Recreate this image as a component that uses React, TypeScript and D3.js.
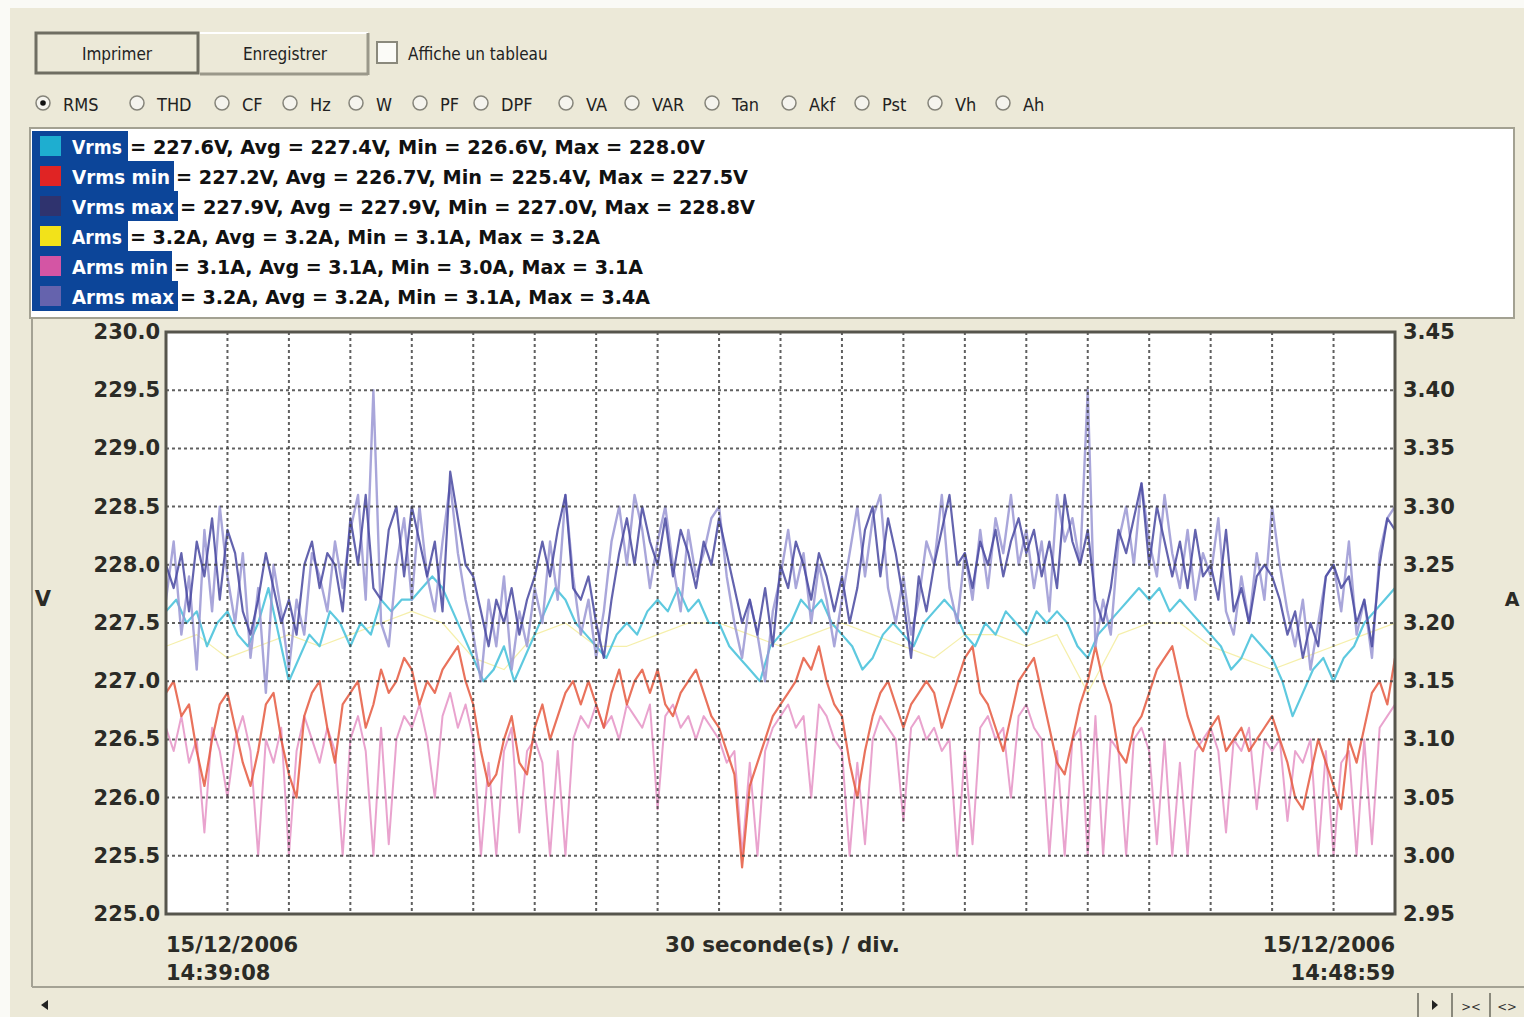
import React from 'react';
import * as d3 from 'd3';

// ---- data ----
const voltTicks = [225.0, 225.5, 226.0, 226.5, 227.0, 227.5, 228.0, 228.5, 229.0, 229.5, 230.0];
const ampTicks = [2.95, 3.0, 3.05, 3.1, 3.15, 3.2, 3.25, 3.3, 3.35, 3.4, 3.45];
const startStamp = ['15/12/2006', '14:39:08'];
const endStamp = ['15/12/2006', '14:48:59'];
const divisionLabel = '30 seconde(s) / div.';
const divisionCount = 20;

const radioLabels = ['RMS', 'THD', 'CF', 'Hz', 'W', 'PF', 'DPF', 'VA', 'VAR', 'Tan', 'Akf', 'Pst', 'Vh', 'Ah'];

const seriesNames = ['Vrms', 'Vrms min', 'Vrms max', 'Arms', 'Arms min', 'Arms max'];
const seriesSwatch = ['#1eaed0', '#e02424', '#2f336e', '#f2e21a', '#d455a4', '#6563ad'];
const seriesStats = [
  '= 227.6V, Avg = 227.4V, Min = 226.6V, Max = 228.0V',
  '= 227.2V, Avg = 226.7V, Min = 225.4V, Max = 227.5V',
  '= 227.9V, Avg = 227.9V, Min = 227.0V, Max = 228.8V',
  '= 3.2A, Avg = 3.2A, Min = 3.1A, Max = 3.2A',
  '= 3.1A, Avg = 3.1A, Min = 3.0A, Max = 3.1A',
  '= 3.2A, Avg = 3.2A, Min = 3.1A, Max = 3.4A',
];

// Vrms (V)
const vrms = [
  227.6, 227.7, 227.5, 227.6, 227.3, 227.5,
  227.6, 227.4, 227.3, 227.5, 227.8, 227.4,
  227.0, 227.2, 227.4, 227.3, 227.6, 227.5,
  227.3, 227.5, 227.4, 227.7, 227.6, 227.7,
  227.7, 227.8, 227.9, 227.8, 227.6, 227.4,
  227.2, 227.0, 227.1, 227.3, 227.0, 227.2,
  227.4, 227.6, 227.8, 227.7, 227.5, 227.4,
  227.3, 227.2, 227.4, 227.5, 227.4, 227.6,
  227.7, 227.6, 227.8, 227.6, 227.7, 227.5,
  227.5, 227.3, 227.2, 227.1, 227.0, 227.3,
  227.4, 227.5, 227.7, 227.6, 227.7, 227.5,
  227.4, 227.3, 227.1, 227.2, 227.4, 227.5,
  227.4, 227.3, 227.5, 227.6, 227.7, 227.6,
  227.4, 227.3, 227.5, 227.4, 227.6, 227.5,
  227.4, 227.6, 227.5, 227.6, 227.5, 227.3,
  227.2, 227.4, 227.5, 227.6, 227.7, 227.8,
  227.7, 227.8, 227.6, 227.7, 227.6, 227.5,
  227.4, 227.3, 227.1, 227.2, 227.4, 227.3,
  227.2, 227.0, 226.7, 226.9, 227.1, 227.2,
  227.0, 227.2, 227.3, 227.5, 227.6, 227.7,
  227.8,
];

// Vrms min (V)
const vrmsMin = [
  226.9, 227.0, 226.7, 226.8, 226.4, 226.1, 226.5, 226.8,
  226.9, 226.6, 226.3, 226.1, 226.4, 226.8, 226.9, 226.5,
  226.2, 226.0, 226.7, 226.9, 227.0, 226.6, 226.3, 226.8,
  226.9, 227.0, 226.6, 226.8, 227.1, 226.9, 227.0, 227.2,
  227.1, 226.8, 227.0, 226.9, 227.1, 227.2, 227.3, 227.0,
  226.8, 226.4, 226.1, 226.2, 226.5, 226.7, 226.3, 226.2,
  226.6, 226.8, 226.5, 226.7, 226.9, 227.0, 226.8, 227.0,
  226.8, 226.6, 226.9, 227.1, 226.8, 227.0, 227.1, 226.9,
  227.1, 226.8, 226.7, 226.9, 227.0, 227.1, 226.9, 226.7,
  226.6, 226.4, 226.2, 225.4, 226.1, 226.3, 226.5, 226.7,
  226.8, 226.9, 227.0, 227.2, 227.1, 227.3, 227.0, 226.8,
  226.7, 226.3, 226.0, 226.4, 226.7, 226.9, 227.0, 226.8,
  226.6, 226.8, 226.9, 227.0, 226.9, 226.6, 226.8, 227.0,
  227.2, 227.3, 226.9, 226.8, 226.6, 226.4, 226.7, 227.0,
  227.1, 227.2, 226.9, 226.6, 226.3, 226.2, 226.5, 226.8,
  227.0, 227.3, 227.0, 226.8, 226.4, 226.3, 226.6, 226.7,
  226.9, 227.1, 227.2, 227.3, 227.0, 226.7, 226.5, 226.4,
  226.6, 226.7, 226.4, 226.5, 226.6, 226.4, 226.5, 226.6,
  226.7, 226.5, 226.3, 226.0, 225.9, 226.2, 226.5, 226.3,
  226.1, 225.9, 226.5, 226.3, 226.6, 226.9, 227.0, 226.8,
  227.2,
];

// Vrms max (V)
const vrmsMax = [
  228.0, 227.8, 228.1, 227.6, 228.2, 227.9, 228.4, 227.7,
  228.3, 228.1, 227.6, 227.4, 227.7, 228.1, 227.8, 227.5,
  227.7, 227.4, 228.0, 228.2, 227.8, 228.1, 228.0, 227.6,
  228.4, 228.0, 228.6, 227.8, 227.7, 228.3, 228.5, 227.9,
  228.5, 228.2, 227.9, 228.2, 227.6, 228.8, 228.4, 228.0,
  227.9, 227.6, 227.3, 227.7, 227.5, 227.8, 227.4, 227.7,
  227.9, 228.2, 227.9, 228.3, 228.6, 227.8, 227.7, 227.9,
  227.5, 227.2, 227.7, 228.1, 228.4, 228.0, 228.5, 228.2,
  228.0, 228.4, 227.9, 228.3, 228.1, 227.8, 228.2, 228.0,
  228.4, 228.1, 227.8, 227.5, 227.7, 227.4, 227.8, 227.3,
  228.0, 227.8, 228.2, 228.0, 227.7, 228.1, 227.9, 227.6,
  227.9, 227.5, 227.8, 228.3, 228.5, 227.9, 228.4, 228.1,
  227.7, 227.2, 227.9, 227.6, 228.0, 228.3, 228.6, 228.0,
  228.1, 227.8, 228.2, 228.0, 228.3, 227.9, 228.2, 228.4,
  228.1, 228.3, 227.9, 228.2, 227.8, 228.6, 228.2, 228.0,
  228.3, 227.7, 227.5, 227.8, 228.3, 228.1, 228.4, 228.7,
  228.0, 228.5, 228.2, 227.9, 228.2, 227.8, 228.3, 227.9,
  228.0, 227.7, 228.3, 227.6, 227.8, 227.5, 227.9, 228.0,
  227.9, 227.7, 227.4, 227.6, 227.2, 227.5, 227.3, 227.9,
  228.0, 227.8, 227.9, 227.5, 227.7, 227.3, 228.0, 228.4,
  228.3,
];

// Arms (A)
const arms = [
  3.18, 3.19, 3.17, 3.18, 3.19, 3.18, 3.19, 3.2, 3.21, 3.2,
  3.17, 3.16, 3.19, 3.2, 3.18, 3.18, 3.19, 3.2, 3.2, 3.19,
  3.18, 3.19, 3.2, 3.19, 3.18, 3.17, 3.19, 3.19, 3.18, 3.19,
  3.14, 3.19, 3.2, 3.2, 3.18, 3.17, 3.16, 3.17, 3.18, 3.19,
  3.2,
];

// Arms min (A)
const armsMin = [
  3.11, 3.09, 3.12, 3.08, 3.1, 3.02, 3.11, 3.09,
  3.05, 3.1, 3.12, 3.09, 3.0, 3.1, 3.08, 3.11,
  3.0, 3.09, 3.12, 3.1, 3.08, 3.11, 3.09, 3.0,
  3.1, 3.12, 3.09, 3.0, 3.11, 3.01, 3.1, 3.12,
  3.11, 3.13, 3.1, 3.05, 3.12, 3.14, 3.11, 3.13,
  3.1, 3.0, 3.08, 3.0, 3.09, 3.11, 3.02, 3.09,
  3.1, 3.08, 3.0, 3.09, 3.0, 3.1, 3.12, 3.11,
  3.13, 3.11, 3.12, 3.1, 3.13, 3.12, 3.11, 3.13,
  3.04, 3.12, 3.13, 3.11, 3.12, 3.1, 3.12, 3.11,
  3.1, 3.08, 3.09, 3.0, 3.08, 3.0, 3.09, 3.11,
  3.12, 3.13, 3.11, 3.12, 3.05, 3.13, 3.12, 3.1,
  3.09, 3.0, 3.08, 3.01, 3.1, 3.12, 3.11, 3.1,
  3.03, 3.11, 3.12, 3.1, 3.11, 3.09, 3.1, 3.0,
  3.09, 3.01, 3.11, 3.12, 3.1, 3.11, 3.05, 3.12,
  3.13, 3.11, 3.1, 3.0, 3.09, 3.0, 3.1, 3.11,
  3.0, 3.12, 3.0, 3.1, 3.09, 3.0, 3.1, 3.11,
  3.09, 3.01, 3.1, 3.0, 3.08, 3.0, 3.09, 3.1,
  3.11, 3.09, 3.02, 3.1, 3.09, 3.11, 3.04, 3.1,
  3.09, 3.1, 3.03, 3.09, 3.08, 3.1, 3.0, 3.09,
  3.0, 3.08, 3.09, 3.0, 3.1, 3.01, 3.11, 3.12,
  3.13,
];

// Arms max (A)
const armsMax = [
  3.22, 3.27, 3.19, 3.24, 3.16, 3.28, 3.21, 3.3,
  3.24, 3.2, 3.26, 3.17, 3.23, 3.14, 3.25, 3.21,
  3.16, 3.22, 3.19, 3.26, 3.24, 3.21, 3.27, 3.23,
  3.28, 3.31, 3.22, 3.4, 3.2, 3.18, 3.25, 3.29,
  3.22, 3.3, 3.24, 3.21, 3.27, 3.32, 3.26, 3.22,
  3.19, 3.15, 3.22, 3.18, 3.24, 3.16, 3.21, 3.18,
  3.23, 3.2, 3.27, 3.22, 3.31, 3.24, 3.19, 3.22,
  3.17, 3.21, 3.27, 3.3, 3.25, 3.31, 3.28, 3.23,
  3.27, 3.3, 3.25, 3.21, 3.28, 3.24, 3.26, 3.29,
  3.3, 3.24, 3.2, 3.17, 3.22, 3.19, 3.15, 3.21,
  3.24, 3.28, 3.23, 3.26, 3.2, 3.25, 3.22, 3.18,
  3.22, 3.26, 3.3, 3.24, 3.29, 3.31, 3.23, 3.2,
  3.24, 3.19, 3.22, 3.27, 3.25, 3.31, 3.23, 3.2,
  3.26, 3.22, 3.28, 3.23, 3.29, 3.26, 3.31, 3.25,
  3.28, 3.23, 3.27, 3.21, 3.31, 3.27, 3.29, 3.25,
  3.4, 3.18, 3.22, 3.19, 3.27, 3.3, 3.25, 3.32,
  3.27, 3.24, 3.31, 3.26, 3.23, 3.28, 3.22, 3.26,
  3.24, 3.29, 3.21, 3.19, 3.24, 3.2, 3.26, 3.22,
  3.3, 3.25, 3.21, 3.18, 3.22, 3.16, 3.2, 3.24,
  3.25, 3.21, 3.27, 3.19, 3.22, 3.17, 3.26, 3.29,
  3.3,
];

// ---- layout ----
const W = 1524;
const H = 1017;
const BEIGE = '#ece9d8';
const UI_FONT = "'DejaVu Sans Condensed','DejaVu Sans',sans-serif";
const BOLD_FONT = "'DejaVu Sans',sans-serif";
const plot = { left: 166, right: 1395, top: 332, bottom: 914 };

const yV = d3.scaleLinear().domain([225, 230]).range([plot.bottom, plot.top]);
const yA = d3.scaleLinear().domain([2.95, 3.45]).range([plot.bottom, plot.top]);
const xDiv = d3.scaleLinear().domain([0, divisionCount]).range([plot.left, plot.right]);

function seriesPath(vals: number[], y: d3.ScaleLinear<number, number>) {
  const x = d3.scaleLinear().domain([0, vals.length - 1]).range([plot.left, plot.right]);
  return d3.line<number>().x((d, i) => x(i)).y(d => y(d))(vals) || '';
}

const layers = [
  { vals: arms, y: yA, color: '#e6d62a', width: 1.2, opacity: 0.4 },
  { vals: armsMin, y: yA, color: '#e48cc2', width: 2, opacity: 0.8 },
  { vals: vrmsMin, y: yV, color: '#e5593f', width: 2.2, opacity: 0.85 },
  { vals: vrms, y: yV, color: '#4cc3dc', width: 2.2, opacity: 0.9 },
  { vals: armsMax, y: yA, color: '#9a96d4', width: 2.4, opacity: 0.85 },
  { vals: vrmsMax, y: yV, color: '#4848a0', width: 2.2, opacity: 0.85 },
];

// legend row geometry
const legendTop = 131;
const rowH = 30;
const labelEnds = [128, 174, 178, 128, 172, 178];
const statEnds = [705, 748, 755, 600, 643, 650];
const labelWidths = [50, 98, 102, 50, 96, 102];

// radio positions along the top option row
const radioX = [43, 137, 222, 290, 356, 420, 481, 566, 632, 712, 789, 862, 935, 1003];

export default function App() {
  return (
    <div style={{ position: 'absolute', left: 0, top: 0 }}>
      <svg width={W} height={H} style={{ display: 'block' }}>
        <defs>
          <clipPath id="plotClip">
            <rect x={plot.left} y={plot.top} width={plot.right - plot.left} height={plot.bottom - plot.top} />
          </clipPath>
        </defs>
        <rect x={0} y={0} width={W} height={H} fill="#fafaf6" />
        <rect x={10} y={8} width={W - 10} height={H - 8} fill={BEIGE} />

        {/* buttons */}
        <rect x={36} y={33} width={162} height={40} fill={BEIGE} stroke="#6f6e62" strokeWidth={3} />
        <text x={117} y={54} fontFamily={UI_FONT} fontSize={17} fill="#222" textAnchor="middle" dominantBaseline="central">Imprimer</text>
        <line x1={200} y1={33} x2={368} y2={33} stroke="#fff" strokeWidth={2} />
        <line x1={200} y1={74} x2={368} y2={74} stroke="#9a988a" strokeWidth={3} />
        <line x1={368} y1={33} x2={368} y2={75} stroke="#9a988a" strokeWidth={3} />
        <text x={285} y={54} fontFamily={UI_FONT} fontSize={17} fill="#222" textAnchor="middle" dominantBaseline="central">Enregistrer</text>
        <rect x={377} y={42} width={20} height={21} fill="#fbfbf7" stroke="#8a897c" strokeWidth={2} />
        <text x={408} y={54} fontFamily={UI_FONT} fontSize={17} fill="#222" dominantBaseline="central">Affiche un tableau</text>

        {/* measurement radio row */}
        {radioLabels.map((lab, i) => (
          <g key={lab}>
            <circle cx={radioX[i]} cy={103} r={7} fill="#f5f4ee" stroke="#85847a" strokeWidth={1.5} />
            {i === 0 && <circle cx={radioX[i]} cy={103} r={2.8} fill="#111" />}
            <text x={radioX[i] + 20} y={104} fontFamily={UI_FONT} fontSize={18} fill="#222" dominantBaseline="central">{lab}</text>
          </g>
        ))}

        {/* legend box */}
        <rect x={30} y={128} width={1484} height={190} fill="#fff" stroke="#a3a192" strokeWidth={2} />
        {seriesNames.map((name, i) => {
          const top = legendTop + i * rowH;
          const cy = top + rowH / 2;
          return (
            <g key={name}>
              <rect x={32} y={top} width={labelEnds[i] - 32} height={rowH} fill="#0c4599" />
              <rect x={40} y={cy - 10} width={21} height={20} fill={seriesSwatch[i]} />
              <text x={72} y={cy + 1} fontFamily={UI_FONT} fontWeight="bold" fontSize={19} fill="#fff"
                dominantBaseline="central" textLength={labelWidths[i]} lengthAdjust="spacingAndGlyphs">{name}</text>
              <text x={labelEnds[i] + 2} y={cy + 1} fontFamily={UI_FONT} fontWeight="bold" fontSize={19} fill="#111"
                dominantBaseline="central" textLength={statEnds[i] - labelEnds[i] - 2} lengthAdjust="spacingAndGlyphs">{seriesStats[i]}</text>
            </g>
          );
        })}

        {/* chart panel frame */}
        <line x1={32} y1={318} x2={32} y2={987} stroke="#a4a294" strokeWidth={2} />
        <line x1={32} y1={987} x2={W} y2={987} stroke="#a4a294" strokeWidth={2} />

        {/* plot area */}
        <rect x={plot.left} y={plot.top} width={plot.right - plot.left} height={plot.bottom - plot.top} fill="#fff" />
        <g clipPath="url(#plotClip)">
          {layers.map((l, i) => (
            <path key={i} d={seriesPath(l.vals, l.y)} fill="none" stroke={l.color} strokeWidth={l.width}
              strokeOpacity={l.opacity} strokeLinejoin="round" />
          ))}
        </g>

        {/* grid drawn over the traces */}
        {voltTicks.slice(1, -1).map(v => (
          <line key={'h' + v} x1={plot.left} x2={plot.right} y1={yV(v)} y2={yV(v)}
            stroke="#444" strokeWidth={2} strokeDasharray="3 3" strokeOpacity={0.85} />
        ))}
        {d3.range(1, divisionCount).map(k => (
          <line key={'v' + k} x1={xDiv(k)} x2={xDiv(k)} y1={plot.top} y2={plot.bottom}
            stroke="#444" strokeWidth={2} strokeDasharray="3 3" strokeOpacity={0.85} />
        ))}
        <rect x={plot.left} y={plot.top} width={plot.right - plot.left} height={plot.bottom - plot.top}
          fill="none" stroke="#56554c" strokeWidth={3} />

        {/* axes labels */}
        {voltTicks.map(v => (
          <text key={'l' + v} x={160} y={yV(v)} fontFamily={BOLD_FONT} fontWeight="bold" fontSize={21}
            fill="#2b2b26" textAnchor="end" dominantBaseline="central">{d3.format('.1f')(v)}</text>
        ))}
        {ampTicks.map(a => (
          <text key={'r' + a} x={1403} y={yA(a)} fontFamily={BOLD_FONT} fontWeight="bold" fontSize={21}
            fill="#2b2b26" dominantBaseline="central">{d3.format('.2f')(a)}</text>
        ))}
        <text x={43} y={599} fontFamily={BOLD_FONT} fontWeight="bold" fontSize={21} fill="#2b2b26"
          textAnchor="middle" dominantBaseline="central">V</text>
        <text x={1512} y={599} fontFamily={BOLD_FONT} fontWeight="bold" fontSize={19} fill="#2b2b26"
          textAnchor="middle" dominantBaseline="central">A</text>

        {/* time labels */}
        {startStamp.map((s, i) => (
          <text key={'s' + i} x={plot.left} y={945 + i * 28} fontFamily={BOLD_FONT} fontWeight="bold" fontSize={21}
            fill="#2b2b26" dominantBaseline="central">{s}</text>
        ))}
        {endStamp.map((s, i) => (
          <text key={'e' + i} x={plot.right} y={945 + i * 28} fontFamily={BOLD_FONT} fontWeight="bold" fontSize={21}
            fill="#2b2b26" textAnchor="end" dominantBaseline="central">{s}</text>
        ))}
        <text x={665} y={945} fontFamily={BOLD_FONT} fontWeight="bold" fontSize={21} fill="#2b2b26"
          dominantBaseline="central" textLength={235} lengthAdjust="spacingAndGlyphs">{divisionLabel}</text>

        {/* scroll strip */}
        <path d="M41,1005 L48,1000 L48,1010 Z" fill="#222" />
        <line x1={1418} y1={993} x2={1418} y2={H} stroke="#8a897c" strokeWidth={2} />
        <line x1={1452} y1={993} x2={1452} y2={H} stroke="#8a897c" strokeWidth={2} />
        <line x1={1490} y1={993} x2={1490} y2={H} stroke="#8a897c" strokeWidth={2} />
        <path d="M1432,1000 L1438,1005 L1432,1010 Z" fill="#222" />
        <text x={1471} y={1006} fontFamily={UI_FONT} fontSize={13} fill="#333" textAnchor="middle" dominantBaseline="central">&gt;&lt;</text>
        <text x={1507} y={1006} fontFamily={UI_FONT} fontSize={13} fill="#333" textAnchor="middle" dominantBaseline="central">&lt;&gt;</text>
      </svg>
    </div>
  );
}
